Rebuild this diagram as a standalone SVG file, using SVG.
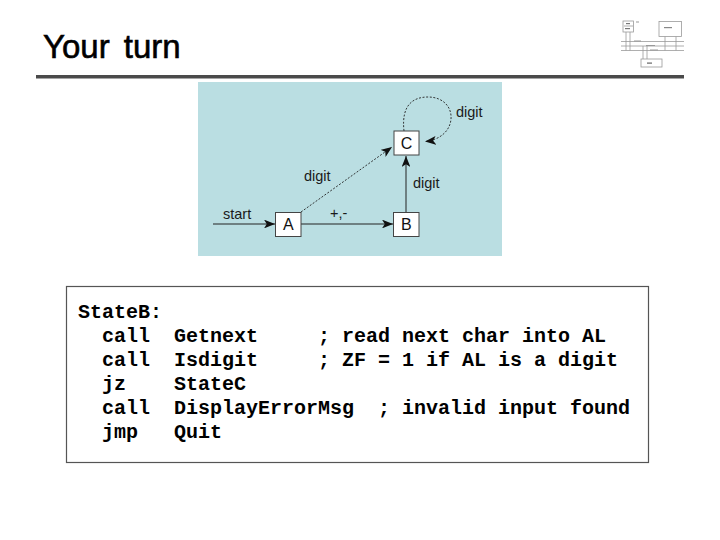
<svg xmlns="http://www.w3.org/2000/svg" width="720" height="540" viewBox="0 0 720 540">
<defs>
<style>
.title{font-family:"Liberation Sans",Arial,sans-serif;font-size:33px;fill:#000;stroke:#000;stroke-width:0.6}
.lbl{font-family:"Liberation Sans",Arial,sans-serif;font-size:14.5px;fill:#1a1a1a}
.st{font-family:"Liberation Sans",Arial,sans-serif;font-size:16px;fill:#111;text-anchor:middle}
.box{fill:#fff;stroke:#444;stroke-width:1}
.edge{fill:none;stroke:#222;stroke-width:1}
.dash{fill:none;stroke:#222;stroke-width:0.9;stroke-dasharray:2 1.6}
.code{font-family:"Liberation Mono","Courier New",monospace;font-size:20px;font-weight:bold;fill:#000;white-space:pre}
.lg{fill:none;stroke:#9a9a9a;stroke-width:0.8}
</style>
<marker id="ah" viewBox="0 0 10 8" refX="10" refY="4" markerWidth="11" markerHeight="8.8" markerUnits="userSpaceOnUse" orient="auto">
<path d="M0,0 L10,4 L0,8 L2.5,4 z" fill="#111"/>
</marker>
</defs>
<rect width="720" height="540" fill="#fff"/>

<text class="title" x="43" y="58" word-spacing="5">Your turn</text>
<rect x="36" y="75" width="648" height="3.5" fill="#4a4a4a"/>

<g id="logo">
<rect x="623" y="21" width="10.5" height="11" class="lg"/>
<line x1="624" y1="26" x2="633" y2="26" class="lg"/>
<rect x="659" y="21.5" width="22.5" height="15" class="lg"/>
<rect x="641" y="59" width="21" height="8" class="lg"/>
<line x1="621" y1="41.5" x2="684" y2="41.5" class="lg"/>
<line x1="621" y1="46" x2="684" y2="46" class="lg"/>
<line x1="621" y1="50.5" x2="684" y2="50.5" class="lg"/>
<line x1="626" y1="32" x2="626" y2="50.5" class="lg"/>
<line x1="630" y1="32" x2="630" y2="50.5" class="lg"/>
<line x1="665" y1="36.5" x2="665" y2="50.5" class="lg"/>
<line x1="676" y1="36.5" x2="676" y2="50.5" class="lg"/>
<line x1="643" y1="46" x2="643" y2="59" class="lg"/>
<line x1="647" y1="46" x2="647" y2="59" class="lg"/>
<rect x="626" y="23" width="4" height="1.2" fill="#777"/>
<rect x="625" y="28" width="5" height="1.2" fill="#777"/>
<rect x="636" y="21.5" width="3" height="1" fill="#999"/>
<rect x="664" y="27" width="8" height="1.2" fill="#888"/>
<rect x="634" y="40.5" width="7" height="1" fill="#999"/>
<rect x="646" y="45" width="9" height="1" fill="#999"/>
<rect x="650" y="49.5" width="8" height="1" fill="#999"/>
<rect x="647" y="62.5" width="5" height="1.2" fill="#666"/>
</g>

<rect x="198" y="82" width="304" height="174" fill="#badee2"/>

<g id="connectors">
<line x1="213" y1="224" x2="275" y2="224" class="edge" marker-end="url(#ah)"/>
<line x1="301" y1="224" x2="393" y2="224" class="edge" marker-end="url(#ah)"/>
<line x1="301" y1="212" x2="392" y2="147" class="dash" marker-end="url(#ah)"/>
<line x1="406" y1="212" x2="406" y2="156" class="edge" marker-end="url(#ah)"/>
<path d="M404,131 C401,104 414,97 428,97 C443,97 452,107 451,119 C450,131 440,140 425,141.5" class="dash" marker-end="url(#ah)"/>
<text class="lbl" x="223" y="219">start</text>
<text class="lbl" x="330" y="218">+,-</text>
<text class="lbl" x="304" y="181">digit</text>
<text class="lbl" x="413" y="188">digit</text>
<text class="lbl" x="456" y="117">digit</text>
</g>

<g id="A">
<rect x="275.5" y="212.5" width="25.5" height="24" class="box"/>
<text class="st" x="288.3" y="230">A</text>
</g>
<g id="B">
<rect x="393.5" y="212.5" width="25.5" height="24" class="box"/>
<text class="st" x="406.3" y="230">B</text>
</g>
<g id="C">
<rect x="394" y="131" width="25" height="24" class="box" stroke-width="2.6" stroke="#111"/>
<text class="st" x="406.5" y="149">C</text>
</g>

<g id="code">
<rect x="66.5" y="286.5" width="582" height="176" fill="#fff" stroke="#555" stroke-width="1.2"/>
<text class="code" x="78" y="318">StateB:</text>
<text class="code" x="78" y="342">  call  Getnext     ; read next char into AL</text>
<text class="code" x="78" y="366">  call  Isdigit     ; ZF = 1 if AL is a digit</text>
<text class="code" x="78" y="390">  jz    StateC</text>
<text class="code" x="78" y="414">  call  DisplayErrorMsg  ; invalid input found</text>
<text class="code" x="78" y="438">  jmp   Quit</text>
</g>
</svg>
